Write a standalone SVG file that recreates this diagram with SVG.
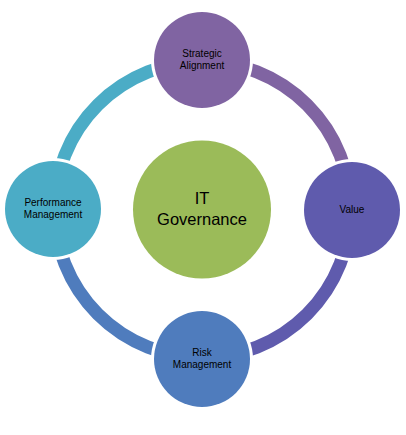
<svg xmlns="http://www.w3.org/2000/svg" width="406" height="435" viewBox="0 0 406 435">
<style>
.arc{fill:none;stroke-width:13}
.halo{fill:#fff}
.lbl{font-family:"Liberation Sans",Arial,sans-serif;font-size:10px;fill:#000;text-anchor:middle}
.big{font-family:"Liberation Sans",Arial,sans-serif;font-size:16.5px;fill:#000;text-anchor:middle}
</style>
<rect width="406" height="435" fill="#fff"/>
<g id="connectors">
<path class="arc" stroke="#8064A2" d="M202.5,61.5 A148,148 0 0,1 350.5,209.5"/>
<path class="arc" stroke="#5F5BAD" d="M350.5,209.5 A148,148 0 0,1 202.5,357.5"/>
<path class="arc" stroke="#4F7CBD" d="M202.5,357.5 A148,148 0 0,1 54.5,209.5"/>
<path class="arc" stroke="#4BACC6" d="M54.5,209.5 A148,148 0 0,1 202.5,61.5"/>
</g>
<g id="center">
<circle cx="202" cy="209.5" r="69" fill="#9BBB59"/>
<text class="big" x="202" y="204">IT</text>
<text class="big" x="202" y="224.5">Governance</text>
</g>
<g id="strategic">
<circle class="halo" cx="202" cy="60" r="51"/>
<circle cx="202" cy="60" r="48" fill="#8064A2"/>
<text class="lbl" x="202" y="57">Strategic</text>
<text class="lbl" x="202" y="69">Alignment</text>
</g>
<g id="value">
<circle class="halo" cx="352" cy="210" r="51"/>
<circle cx="352" cy="210" r="48" fill="#5F5BAD"/>
<text class="lbl" x="352" y="212.5">Value</text>
</g>
<g id="risk">
<circle class="halo" cx="202" cy="359" r="51"/>
<circle cx="202" cy="359" r="48" fill="#4F7CBD"/>
<text class="lbl" x="202" y="356">Risk</text>
<text class="lbl" x="202" y="368">Management</text>
</g>
<g id="performance">
<circle class="halo" cx="53" cy="209" r="51"/>
<circle cx="53" cy="209" r="48" fill="#4BACC6"/>
<text class="lbl" x="53" y="206">Performance</text>
<text class="lbl" x="53" y="217.5">Management</text>
</g>
</svg>
